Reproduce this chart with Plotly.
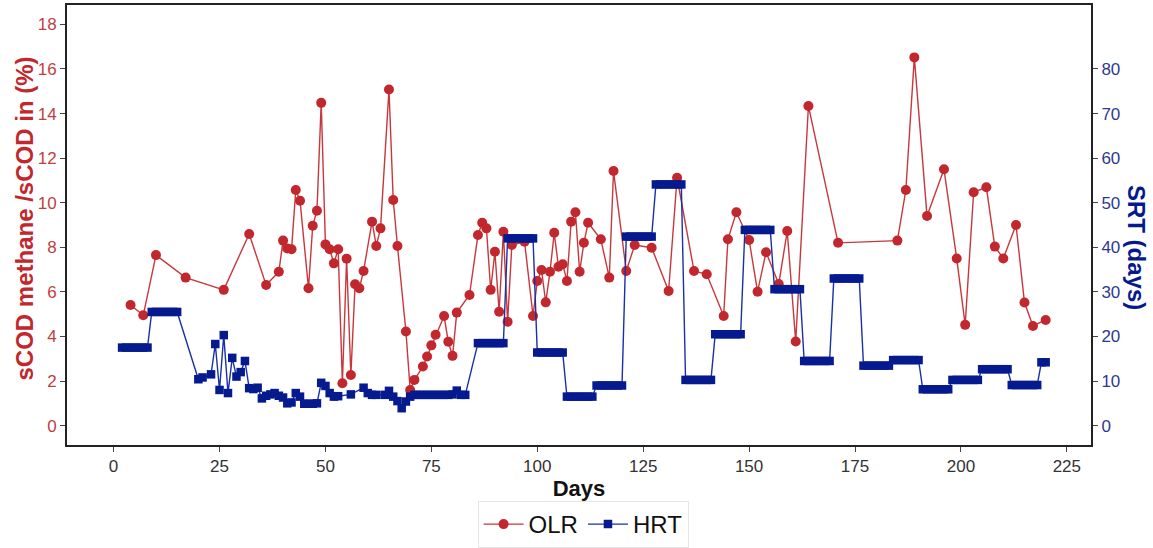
import plotly.graph_objects as go

# ---------------- data ----------------
olr_days = [4, 7, 10, 17, 26, 32, 36, 39, 40, 41, 42, 43, 44, 46, 47, 48, 49, 50, 51, 52,
            53, 54, 55, 56, 57, 58, 59, 61, 62, 63, 65, 66, 67, 69, 70, 71, 73, 74, 75, 76,
            78, 79, 80, 81, 84, 86, 87, 88, 89, 90, 91, 92, 93, 94, 97, 99, 100, 101, 102, 103,
            104, 105, 106, 107, 108, 109, 110, 111, 112, 115, 117, 118, 121, 123, 127, 131, 133, 137, 140, 144,
            145, 147, 150, 152, 154, 157, 159, 161, 164, 171, 185, 187, 189, 192, 196, 199, 201, 203, 206, 208,
            210, 213, 215, 217, 220]
olr_vals = [5.41, 4.95, 7.65, 6.64, 6.09, 8.6, 6.31, 6.9, 8.3, 7.95, 7.91, 10.57, 10.09, 6.16, 8.97, 9.64, 14.48, 8.13, 7.91, 7.28,
            7.91, 1.9, 7.49, 2.27, 6.34, 6.16, 6.94, 9.15, 8.06, 8.85, 15.08, 10.12, 8.06, 4.22, 1.6, 2.05, 2.65, 3.1, 3.6, 4.08,
            4.92, 3.76, 3.13, 5.07, 5.86, 8.55, 9.1, 8.85, 6.09, 7.8, 5.11, 8.7, 4.66, 8.1, 8.25, 4.92, 6.49, 6.98, 5.53, 6.9,
            8.65, 7.13, 7.24, 6.49, 9.15, 9.57, 6.9, 8.2, 9.1, 8.36, 6.64, 11.42, 6.94, 8.1, 7.98, 6.04, 11.12, 6.94, 6.79, 4.92,
            8.36, 9.57, 8.33, 6.01, 7.78, 6.35, 8.73, 3.77, 14.34, 8.2, 8.3, 10.57, 16.52, 9.4, 11.5, 7.5, 4.52, 10.47, 10.69, 8.03,
            7.5, 9.0, 5.52, 4.47, 4.74]

hrt_days = [2, 3, 4, 5, 6, 7, 8, 9, 10, 11, 12, 13, 14, 15,
            20, 21, 23, 24, 25, 26, 27, 28, 29, 30, 31, 32, 33, 34, 35, 36, 37, 38, 39, 40,
            41, 42, 43, 44, 45, 46, 47, 48, 49, 50, 51, 52, 53, 56, 59, 60, 61, 62, 64, 65,
            66, 67, 68, 69, 70, 71, 72, 73, 74, 75, 76, 77, 78, 79, 80, 81, 82, 83,
            86, 87, 88, 89, 90, 91, 92, 93, 94, 95, 96, 97, 98, 99,
            100, 101, 102, 103, 104, 105, 106, 107, 108, 109, 110, 111, 112, 113,
            114, 115, 116, 117, 118, 119, 120, 121, 122, 123, 124, 125, 126, 127,
            128, 129, 130, 131, 132, 133, 134, 135, 136, 137, 138, 139, 140, 141,
            142, 143, 144, 145, 146, 147, 148, 149, 150, 151, 152, 153, 154, 155,
            156, 157, 158, 159, 160, 161, 162, 163, 164, 165, 166, 167, 168, 169,
            170, 171, 172, 173, 174, 175, 176, 177, 178, 179, 180, 181, 182, 183,
            184, 185, 186, 187, 188, 189, 190, 191, 192, 193, 194, 195, 196, 197,
            198, 199, 200, 201, 202, 203, 204, 205, 206, 207, 208, 209, 210, 211,
            212, 213, 214, 215, 216, 217, 218, 219, 220]
hrt_vals = [17.5, 17.5, 17.5, 17.5, 17.5, 17.5, 17.5, 25.5, 25.5, 25.5, 25.5, 25.5, 25.5, 25.5,
            10.4, 10.8, 11.5, 18.3, 8.0, 20.3, 7.3, 15.2, 11.0, 12.0, 14.5, 8.4, 8.2, 8.5, 6.1, 6.7, 7.0, 7.3, 6.7, 6.3,
            5.0, 5.2, 7.3, 6.5, 4.9, 4.9, 4.9, 5.0, 9.6, 8.9, 7.3, 6.5, 6.6, 7.0, 8.5, 7.3, 6.9, 6.9, 6.9, 7.8,
            6.5, 5.5, 3.9, 5.4, 6.5, 6.9, 6.9, 6.9, 6.9, 6.9, 6.9, 6.9, 6.9, 6.9, 7.0, 7.85, 6.9, 6.9,
            18.5, 18.5, 18.5, 18.5, 18.5, 18.5, 18.5, 42.0, 42.0, 42.0, 42.0, 42.0, 42.0, 42.0,
            16.4, 16.4, 16.4, 16.4, 16.4, 16.4, 16.4, 6.5, 6.5, 6.5, 6.5, 6.5, 6.5, 6.5,
            9.0, 9.0, 9.0, 9.0, 9.0, 9.0, 9.0, 42.4, 42.4, 42.4, 42.4, 42.4, 42.4, 42.4,
            54.1, 54.1, 54.1, 54.1, 54.1, 54.1, 54.1, 10.25, 10.25, 10.25, 10.25, 10.25, 10.25, 10.25,
            20.5, 20.5, 20.5, 20.5, 20.5, 20.5, 20.5, 43.9, 43.9, 43.9, 43.9, 43.9, 43.9, 43.9,
            30.6, 30.6, 30.6, 30.6, 30.6, 30.6, 30.6, 14.5, 14.5, 14.5, 14.5, 14.5, 14.5, 14.5,
            33.0, 33.0, 33.0, 33.0, 33.0, 33.0, 33.0, 13.45, 13.45, 13.45, 13.45, 13.45, 13.45, 13.45,
            14.7, 14.7, 14.7, 14.7, 14.7, 14.7, 14.7, 8.15, 8.15, 8.15, 8.15, 8.15, 8.15, 8.15,
            10.25, 10.25, 10.25, 10.25, 10.25, 10.25, 10.25, 12.65, 12.65, 12.65, 12.65, 12.65, 12.65, 12.65,
            9.1, 9.1, 9.1, 9.1, 9.1, 9.1, 9.1, 14.2, 14.2]

x_ticks = [0, 25, 50, 75, 100, 125, 150, 175, 200, 225]
left_ticks = [0, 2, 4, 6, 8, 10, 12, 14, 16, 18]
right_ticks = [0, 10, 20, 30, 40, 50, 60, 70, 80]

# ---------------- style ----------------
RED = "#C1272D"
RED_TXT = "#C0403F"
BLUE = "#061A8F"
BLUE_TXT = "#2E3892"
FONT = "Liberation Sans, Arial, sans-serif"

fig = go.Figure()
fig.add_trace(go.Scatter(
    x=olr_days, y=olr_vals, name="OLR", mode="lines+markers",
    line=dict(color="#C8373B", width=1.4),
    marker=dict(symbol="circle", size=10, color=RED),
    yaxis="y",
))
fig.add_trace(go.Scatter(
    x=hrt_days, y=hrt_vals, name="HRT", mode="lines+markers",
    line=dict(color="#1A2FA8", width=1.4),
    marker=dict(symbol="square", size=8.5, color=BLUE),
    yaxis="y2",
))

fig.update_layout(
    width=1153, height=548,
    margin=dict(l=67, r=62, t=5, b=103, autoexpand=False),
    paper_bgcolor="white", plot_bgcolor="white",
    font=dict(family=FONT),
    showlegend=True,
    legend=dict(
        orientation="h", x=0.504, xanchor="center",
        yref="container", y=0.0, yanchor="bottom",
        font=dict(size=24, color="#111111", family=FONT),
        bordercolor="#E6E6E6", borderwidth=1, bgcolor="white",
        itemwidth=40,
    ),
    xaxis=dict(
        range=[-11, 230.7], tickvals=x_ticks, ticktext=[str(v) for v in x_ticks],
        showgrid=False, zeroline=False,
        showline=True, linecolor="#222222", linewidth=2, mirror=True,
        ticks="outside", ticklen=5, tickcolor="#444444", tickwidth=1,
        tickfont=dict(size=17, color="#333333", family=FONT),
        title=dict(text="<b>Days</b>", font=dict(size=22, color="#111111", family=FONT), standoff=8),
    ),
    yaxis=dict(
        range=[-0.87, 18.87], tickvals=left_ticks, ticktext=[str(v) for v in left_ticks],
        showgrid=False, zeroline=False,
        showline=True, linecolor="#222222", linewidth=2, mirror=True,
        ticks="outside", ticklen=5, tickcolor="#444444", tickwidth=1,
        tickfont=dict(size=17, color=RED_TXT, family=FONT),
    ),
    yaxis2=dict(
        range=[-4.35, 94.35], tickvals=right_ticks, ticktext=[str(v) for v in right_ticks],
        overlaying="y", side="right",
        showgrid=False, zeroline=False,
        showline=True, linecolor="#222222", linewidth=2,
        ticks="outside", ticklen=5, tickcolor="#444444", tickwidth=1,
        tickfont=dict(size=17, color=BLUE_TXT, family=FONT),
    ),
    annotations=[
        dict(text="<b>sCOD methane /sCOD in (%)</b>", xref="paper", yref="paper",
             x=-0.0413, y=0.514, xanchor="center", yanchor="middle", textangle=-90,
             showarrow=False, font=dict(size=24, color=RED, family=FONT)),
        dict(text="<b>SRT (days)</b>", xref="paper", yref="paper",
             x=1.045, y=0.45, xanchor="center", yanchor="middle", textangle=90,
             showarrow=False, font=dict(size=24, color=BLUE, family=FONT)),
    ],
)

fig.write_html("out.html")
